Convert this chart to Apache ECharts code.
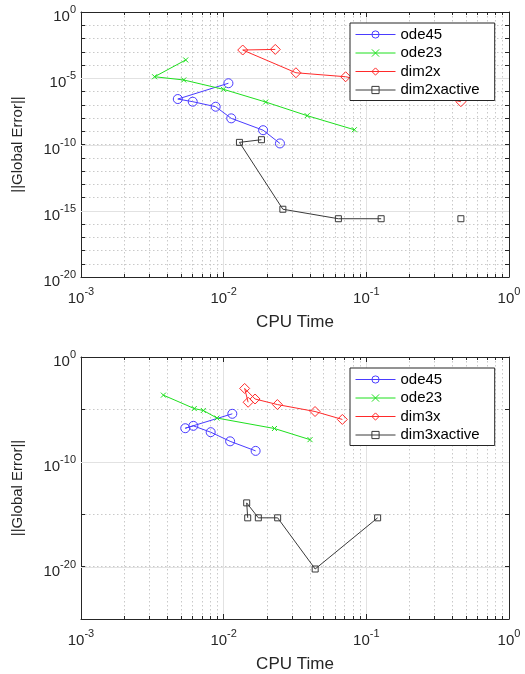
<!DOCTYPE html>
<html>
<head>
<meta charset="utf-8">
<script src="https://cdn.jsdelivr.net/npm/echarts@6/dist/echarts.min.js"></script>
<style>
  html, body { margin: 0; padding: 0; background: #fff; }
  #chart { width: 525px; height: 674px; }
</style>
</head>
<body>
<div id="chart"></div>
<script>
// ---- top panel (dim2x) ----
const ode45TimeA = [0.0108, 0.00477, 0.00607, 0.00879, 0.0113, 0.0189, 0.0248]
const ode45ErrA = [4.2e-6, 2.7e-7, 1.7e-7, 7.1e-8, 9.4e-9, 1.2e-9, 1.2e-10]
const ode23TimeA = [0.00542, 0.00328, 0.00525, 0.00996, 0.0197, 0.0385, 0.0824]
const ode23ErrA = [2.4e-4, 1.3e-5, 7.4e-6, 1.46e-6, 1.6e-7, 1.5e-8, 1.3e-9]
const dim2xTime = [0.023, 0.0136, 0.0321, 0.0716, 0.46]
const dim2xErr = [1.5e-3, 1.35e-3, 2.6e-5, 1.3e-5, 1.7e-7]
// null = run with zero error, not drawn on a log axis (breaks the line)
const dim2xactiveTime = [0.0184, 0.0129, 0.026, 0.0637, 0.127, null, 0.46]
const dim2xactiveErr = [2.3e-10, 1.45e-10, 1.3e-15, 2.5e-16, 2.5e-16, null, 2.5e-16]

// ---- bottom panel (dim3x) ----
const ode45TimeB = [0.0115, 0.00538, 0.00613, 0.00811, 0.0111, 0.01675]
const ode45ErrB = [3.8e-6, 1.6e-7, 2.7e-7, 6.7e-8, 9e-9, 1.1e-9]
const ode23TimeB = [0.00378, 0.00622, 0.0072, 0.00897, 0.0227, 0.0403]
const ode23ErrB = [2.3e-4, 1.2e-5, 7.9e-6, 1.5e-6, 1.5e-7, 1.3e-8]
const dim3xTime = [0.01484, 0.01403, 0.0166, 0.0238, 0.0437, 0.0679]
const dim3xErr = [4.8e-5, 1e-3, 9.8e-5, 2.9e-5, 6.3e-6, 1.1e-6]
const dim3xactiveTime = [0.01474, 0.0145, 0.0175, 0.0239, 0.0438, 0.12]
const dim3xactiveErr = [4.5e-16, 1.2e-14, 4.5e-16, 4.5e-16, 5.9e-21, 4.5e-16]

// ---- axes ----
const xDecades = [-3, 0]
const yDecadesA = [-20, 0]
const yDecadesB = [-25, 0]
const minorX = [0.002, 0.003, 0.004, 0.005, 0.006, 0.007, 0.008, 0.009,
  0.02, 0.03, 0.04, 0.05, 0.06, 0.07, 0.08, 0.09,
  0.2, 0.3, 0.4, 0.5, 0.6, 0.7, 0.8, 0.9]
const majorYA = [1e-5, 1e-10, 1e-15]
const majorYB = [1e-10, 1e-20]

const FONT = '"Liberation Sans", Arial, Helvetica, sans-serif'
const AXIS = '#262626'
const lg = v => Math.log10(v)

const supRich = {
  b: { fontSize: 15, lineHeight: 20, verticalAlign: 'bottom', color: AXIS, fontFamily: FONT },
  s: { fontSize: 11, lineHeight: 11, verticalAlign: 'top', color: AXIS, fontFamily: FONT }
}
const powLabel = v => '{b|10}{s|' + Math.round(v) + '}'

function pairs(times, errs) {
  return times.map((t, i) => (t == null || errs[i] == null) ? ['-', '-'] : [lg(t), lg(errs[i])])
}

function xAxes(gi, range) {
  const base = {
    type: 'value', gridIndex: gi, min: range[0], max: range[1], interval: 1,
    axisLine: { show: true, onZero: false, lineStyle: { color: AXIS, width: 1 } },
    axisTick: { show: true, inside: true, length: 5, lineStyle: { color: AXIS } }
  }
  return [
    Object.assign({}, base, {
      position: 'bottom',
      axisLabel: { margin: 9, formatter: powLabel, rich: supRich },
      splitLine: { show: true, lineStyle: { color: '#e2e2e2', width: 1 } },
      name: 'CPU Time', nameLocation: 'middle', nameGap: 37,
      nameTextStyle: { fontFamily: FONT, fontSize: 17, color: AXIS }
    }),
    Object.assign({}, base, {
      position: 'top', axisLabel: { show: false }, splitLine: { show: false }
    })
  ]
}

function yAxes(gi, range, step, labelStep) {
  const base = {
    type: 'value', gridIndex: gi, min: range[0], max: range[1], interval: step,
    axisLine: { show: true, onZero: false, lineStyle: { color: AXIS, width: 1 } },
    axisTick: { show: true, inside: true, length: 4, lineStyle: { color: AXIS } }
  }
  return [
    Object.assign({}, base, {
      position: 'left',
      axisLabel: {
        margin: 5, padding: [5, 0, 0, 0], rich: supRich,
        formatter: v => (Math.round(v) % labelStep === 0 ? powLabel(v) : '')
      },
      splitLine: { show: true, lineStyle: { color: '#c9c9c9', width: 1, type: [1.5, 2.5] } },
      name: '||Global Error||', nameLocation: 'middle', nameGap: 56, nameRotate: 90,
      nameTextStyle: { fontFamily: FONT, fontSize: 15, color: AXIS }
    }),
    Object.assign({}, base, {
      position: 'right', axisLabel: { show: false }, splitLine: { show: false }
    })
  ]
}

// dotted minor x grid + small inner ticks on bottom/top edges
function minorXItem(params, api) {
  const cs = params.coordSys
  const px = Math.round(api.coord([api.value(0), api.value(1)])[0]) + 0.5
  const y0 = cs.y, y1 = cs.y + cs.height
  return {
    type: 'group',
    children: [
      { type: 'line', shape: { x1: px, y1: y0, x2: px, y2: y1 },
        style: { stroke: '#c9c9c9', lineWidth: 1, lineDash: [1.5, 2.5] } },
      { type: 'line', shape: { x1: px, y1: y1, x2: px, y2: y1 - 3 }, style: { stroke: AXIS, lineWidth: 1 } },
      { type: 'line', shape: { x1: px, y1: y0, x2: px, y2: y0 + 3 }, style: { stroke: AXIS, lineWidth: 1 } }
    ]
  }
}
// solid major y grid lines
function majorYItem(params, api) {
  const cs = params.coordSys
  const py = Math.round(api.coord([api.value(0), api.value(1)])[1]) + 0.5
  return {
    type: 'line', shape: { x1: cs.x, y1: py, x2: cs.x + cs.width, y2: py },
    style: { stroke: '#e2e2e2', lineWidth: 1 }
  }
}

const CROSS = 'path://M0,0L10,10M10,0L0,10'
const styles = {
  ode45: { color: '#4a3cff', symbol: 'circle', size: 9 },
  ode23: { color: '#1fe01f', symbol: CROSS, size: 5 },
  dimx: { color: '#ff2a2a', symbol: 'diamond', size: 10 },
  active: { color: '#3a3a3a', symbol: 'rect', size: 6 }
}

function lineSeries(name, st, data, xi, yi) {
  return {
    type: 'line', name, data, xAxisIndex: xi, yAxisIndex: yi, z: 3,
    symbol: st.symbol, symbolSize: st.size, showSymbol: true, connectNulls: false,
    lineStyle: { color: st.color, width: 1 },
    itemStyle: { color: 'rgba(255,255,255,0)', borderColor: st.color, borderWidth: 1 },
    emphasis: { disabled: true }, animation: false
  }
}

function gridSeries(xi, yi, majorY) {
  return [
    { type: 'custom', xAxisIndex: xi, yAxisIndex: yi, z: 1, silent: true, animation: false,
      renderItem: minorXItem, data: minorX.map(v => [lg(v), 0]) },
    { type: 'custom', xAxisIndex: xi, yAxisIndex: yi, z: 1, silent: true, animation: false,
      renderItem: majorYItem, data: majorY.map(v => [xDecades[0], lg(v)]) }
  ]
}

function legendCfg(top, names) {
  return {
    data: names, orient: 'vertical', left: 350, top: top,
    padding: [4, 15, 3, 5], itemGap: 3.5, itemWidth: 40, itemHeight: 9,
    backgroundColor: '#fff', borderColor: AXIS, borderWidth: 1, borderRadius: 0,
    lineStyle: { width: 1 }, itemStyle: { borderWidth: 1 },
    textStyle: { fontFamily: FONT, fontSize: 15, color: '#000' },
    selectedMode: false
  }
}

const chart = echarts.init(document.getElementById('chart'))
chart.setOption({
  animation: false,
  backgroundColor: '#fff',
  grid: [
    { left: 81, top: 12, width: 428, height: 265, show: false },
    { left: 81, top: 357, width: 428, height: 266, show: false }
  ],
  legend: [
    legendCfg(23, ['ode45', 'ode23', 'dim2x', 'dim2xactive']),
    legendCfg(368, ['ode45 ', 'ode23 ', 'dim3x', 'dim3xactive'])
  ],
  xAxis: [].concat(xAxes(0, xDecades), xAxes(1, xDecades)),
  yAxis: [].concat(yAxes(0, yDecadesA, 1, 5), yAxes(1, yDecadesB, 5, 10)),
  series: [].concat(
    gridSeries(0, 0, majorYA),
    [
      lineSeries('ode45', styles.ode45, pairs(ode45TimeA, ode45ErrA), 0, 0),
      lineSeries('ode23', styles.ode23, pairs(ode23TimeA, ode23ErrA), 0, 0),
      lineSeries('dim2x', styles.dimx, pairs(dim2xTime, dim2xErr), 0, 0),
      lineSeries('dim2xactive', styles.active, pairs(dim2xactiveTime, dim2xactiveErr), 0, 0)
    ],
    gridSeries(2, 2, majorYB),
    [
      lineSeries('ode45 ', styles.ode45, pairs(ode45TimeB, ode45ErrB), 2, 2),
      lineSeries('ode23 ', styles.ode23, pairs(ode23TimeB, ode23ErrB), 2, 2),
      lineSeries('dim3x', styles.dimx, pairs(dim3xTime, dim3xErr), 2, 2),
      lineSeries('dim3xactive', styles.active, pairs(dim3xactiveTime, dim3xactiveErr), 2, 2)
    ]
  )
})
</script>
</body>
</html>
